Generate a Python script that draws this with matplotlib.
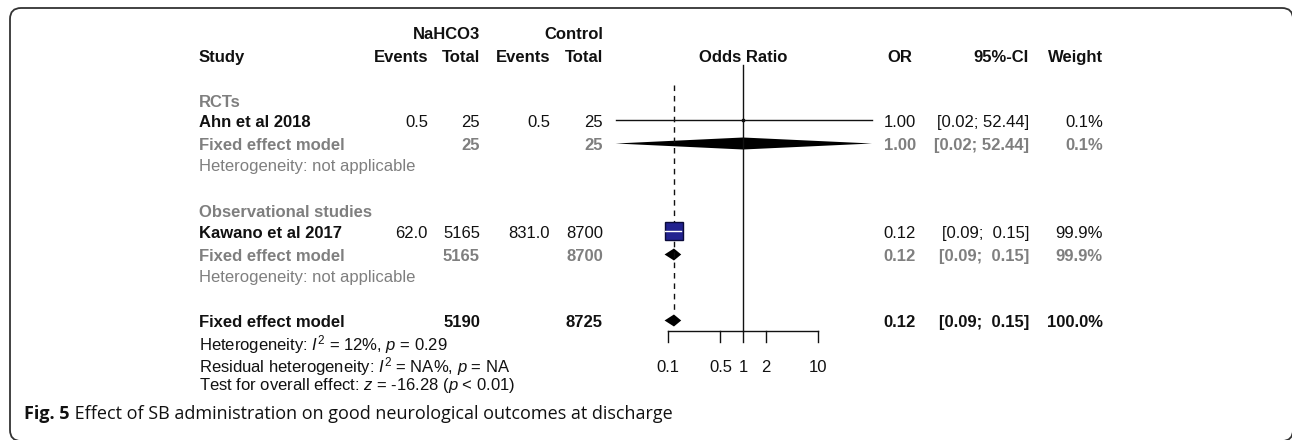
import math

import matplotlib
matplotlib.use("Agg")
import matplotlib.pyplot as plt
from matplotlib.patches import FancyBboxPatch

plt.rcParams["font.family"] = ["Liberation Sans", "DejaVu Sans"]
plt.rcParams["mathtext.fontset"] = "custom"
plt.rcParams["mathtext.rm"] = "Liberation Sans"
plt.rcParams["mathtext.it"] = "Liberation Sans:italic"
plt.rcParams["mathtext.bf"] = "Liberation Sans:bold"

# data
subgroups = ["RCTs", "Observational studies"]
studies = ["Ahn et al 2018", "Kawano et al 2017"]
ev_trt = [0.5, 62.0]
tot_trt = [25, 5165]
ev_ctl = [0.5, 831.0]
tot_ctl = [25, 8700]
or_est = [1.00, 0.12]
ci_lo = [0.02, 0.09]
ci_hi = [52.44, 0.15]
weights = [0.1, 99.9]

sub_est = [1.00, 0.12]
sub_lo = [0.02, 0.09]
sub_hi = [52.44, 0.15]
sub_w = [0.1, 99.9]

all_tot_trt = 5190
all_tot_ctl = 8725
all_est = 0.12
all_lo = 0.09
all_hi = 0.15
all_w = 100.0

het_lines = ["Heterogeneity: $I^2$ = 12%, $p$ = 0.29",
             "Residual heterogeneity: $I^2$ = NA%, $p$ = NA",
             "Test for overall effect: $z$ = -16.28 ($p$ < 0.01)"]
ticks = [0.1, 0.5, 1, 2, 10]
tick_labels = ["0.1", "0.5", "1", "2", "10"]

# layout (pixel baselines)
W, H = 1292, 440
fs = 12
gray = "#7f7f7f"
blk = "#111111"
x_study, x_evt, x_tt, x_evc, x_tc = 199, 428, 480, 550, 603
x_or, x_ci, x_w = 900, 1029, 1103
sub_y = [[107, 127, 150, 171], [217, 238, 261, 282]]
all_y = 327
het_y = [350, 372, 390]
half = 6.5

fig = plt.figure(figsize=(W / 100, H / 100), dpi=100)
bg = fig.add_axes([0, 0, 1, 1])
bg.set_xlim(0, W)
bg.set_ylim(H, 0)
bg.axis("off")

# frame, its right and bottom sides fall at the picture's edges
box = FancyBboxPatch((10, 8), 1283, 433, boxstyle="round,pad=0,rounding_size=11",
                     fill=False, ec="#333333", lw=1.3)
bg.add_patch(box)

def txt(x, y, s, ha="left", color=blk, bold=False, **kw):
    bg.text(x, y, s, ha=ha, va="baseline", color=color, fontsize=fs,
            fontweight="bold" if bold else "normal", **kw)

# header
txt(x_tt, 39, "NaHCO3", ha="right", bold=True)
txt(x_tc, 39, "Control", ha="right", bold=True)
for x, s, ha in [(x_study, "Study", "left"), (x_evt, "Events", "right"), (x_tt, "Total", "right"),
                 (x_evc, "Events", "right"), (x_tc, "Total", "right"), (743, "Odds Ratio", "center"),
                 (x_or, "OR", "center"), (x_ci, "95%-CI", "right"), (x_w, "Weight", "right")]:
    txt(x, 62, s, ha=ha, bold=True)

# forest axes, log scale, y in pixels
lo_lim, hi_lim = 0.015, 60
px0 = 743 + 75 * math.log10(lo_lim)
px1 = 743 + 75 * math.log10(hi_lim)
fa = fig.add_axes([px0 / W, 0, (px1 - px0) / W, 1])
fa.set_xscale("log")
fa.set_xlim(lo_lim, hi_lim)
fa.set_ylim(H, 0)
fa.axis("off")
fa.patch.set_alpha(0)

fa.plot([1, 1], [65, 331], color=blk, lw=1)
fa.plot([all_est, all_est], [85, 310], color=blk, lw=1, ls=(0, (4, 3.5)))

def diamond(est, lo, hi, y, h=6):
    fa.fill([lo, est, hi, est], [y, y - h, y, y + h], color="black", lw=0)

for i in range(2):
    yh, ys, yf, yhet = sub_y[i]
    txt(x_study, yh, subgroups[i], color=gray, bold=True)
    txt(x_study, ys, studies[i], bold=True)
    txt(x_evt, ys, f"{ev_trt[i]:.1f}", ha="right")
    txt(x_tt, ys, f"{tot_trt[i]}", ha="right")
    txt(x_evc, ys, f"{ev_ctl[i]:.1f}", ha="right")
    txt(x_tc, ys, f"{tot_ctl[i]}", ha="right")
    txt(x_or, ys, f"{or_est[i]:.2f}", ha="center")
    txt(x_ci, ys, f"[{ci_lo[i]:.2f}; {ci_hi[i]:5.2f}]", ha="right")
    txt(x_w, ys, f"{weights[i]:.1f}%", ha="right")

    txt(x_study, yf, "Fixed effect model", color=gray, bold=True)
    txt(x_tt, yf, f"{tot_trt[i]}", ha="right", color=gray, bold=True)
    txt(x_tc, yf, f"{tot_ctl[i]}", ha="right", color=gray, bold=True)
    txt(x_or, yf, f"{sub_est[i]:.2f}", ha="center", color=gray, bold=True)
    txt(x_ci, yf, f"[{sub_lo[i]:.2f}; {sub_hi[i]:5.2f}]", ha="right", color=gray, bold=True)
    txt(x_w, yf, f"{sub_w[i]:.1f}%", ha="right", color=gray, bold=True)
    txt(x_study, yhet, "Heterogeneity: not applicable", color=gray)

    # marks
    ym = ys - half
    if weights[i] > 50:
        fa.plot(or_est[i], ym, marker="s", ms=13.5, mfc="#22228f", mec="#0a0a3a", mew=1)
        fa.plot([ci_lo[i], ci_hi[i]], [ym, ym], color="white", lw=1)
    else:
        fa.plot([ci_lo[i], ci_hi[i]], [ym, ym], color=blk, lw=1)
        fa.plot(or_est[i], ym, marker="s", ms=2, color=blk)
    diamond(sub_est[i], sub_lo[i], sub_hi[i], yf - half)

# overall
txt(x_study, all_y, "Fixed effect model", bold=True)
txt(x_tt, all_y, f"{all_tot_trt}", ha="right", bold=True)
txt(x_tc, all_y, f"{all_tot_ctl}", ha="right", bold=True)
txt(x_or, all_y, f"{all_est:.2f}", ha="center", bold=True)
txt(x_ci, all_y, f"[{all_lo:.2f}; {all_hi:5.2f}]", ha="right", bold=True)
txt(x_w, all_y, f"{all_w:.1f}%", ha="right", bold=True)
diamond(all_est, all_lo, all_hi, all_y - half)
for y, s in zip(het_y, het_lines):
    txt(x_study, y, s)

# x axis
fa.plot([ticks[0], ticks[-1]], [331, 331], color=blk, lw=1)
for t, lab in zip(ticks, tick_labels):
    fa.plot([t, t], [331, 342], color=blk, lw=1)
    fa.text(t, 372, lab, ha="center", va="baseline", fontsize=fs, color=blk)

# caption
t1 = bg.text(24, 419, "Fig. 5", fontsize=13, fontweight="bold", family=["Open Sans", "DejaVu Sans"],
             va="baseline", color="#111111")
bg.annotate(" Effect of SB administration on good neurological outcomes at discharge",
            xy=(1, 0), xycoords=t1, va="bottom", ha="left", fontsize=13,
            family=["Open Sans", "DejaVu Sans"], color="#111111")

fig.savefig("out.png", dpi=100)
